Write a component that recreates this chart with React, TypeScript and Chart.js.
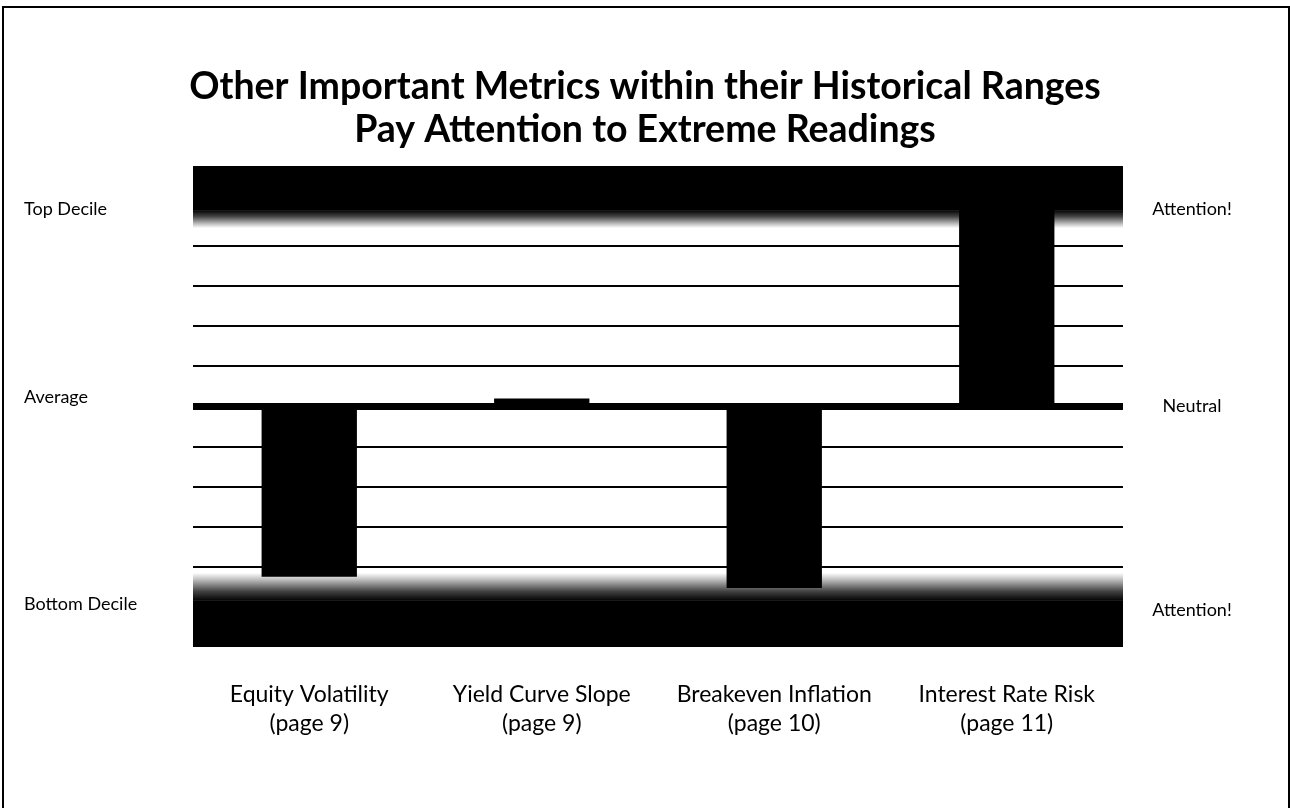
import React, { useEffect, useRef } from 'react';
import { Chart, registerables } from 'chart.js';

Chart.register(...registerables);

const titleLines = [
  'Other Important Metrics within their Historical Ranges',
  'Pay Attention to Extreme Readings',
];
const categories = [
  ['Equity Volatility', '(page 9)'],
  ['Yield Curve Slope', '(page 9)'],
  ['Breakeven Inflation', '(page 10)'],
  ['Interest Rate Risk', '(page 11)'],
];
const readings = [-4.25, 0.2, -4.53, 6];
const leftLabels = ['Top Decile', 'Average', 'Bottom Decile'];
const leftLabelValues = [4.93, 0.24, -4.93];
const rightLabels = ['Attention!', 'Neutral', 'Attention!'];
const rightLabelValues = [4.93, 0, -5.08];
// [fade end (white), solid start, outer edge]
const topBand = [4.45, 4.9, 6];
const bottomBand = [-4.15, -4.85, -6];

const FONT = 'Lato, "Open Sans", sans-serif';

const decorPlugin = {
  id: 'decor',
  beforeDatasetsDraw(chart: any) {
    const { ctx, chartArea, scales } = chart;
    const { left, right } = chartArea;
    const y = scales.y;
    ctx.save();
    const drawBand = (band: number[]) => {
      const yFade = y.getPixelForValue(band[0]);
      const ySolid = y.getPixelForValue(band[1]);
      const yEdge = y.getPixelForValue(band[2]);
      ctx.fillStyle = '#000';
      ctx.fillRect(left, Math.min(ySolid, yEdge), right - left, Math.abs(yEdge - ySolid));
      const g = ctx.createLinearGradient(0, ySolid, 0, yFade);
      g.addColorStop(0, '#000');
      g.addColorStop(0.35, '#444');
      g.addColorStop(0.75, '#bbb');
      g.addColorStop(1, '#fff');
      ctx.fillStyle = g;
      ctx.fillRect(left, Math.min(ySolid, yFade), right - left, Math.abs(yFade - ySolid));
    };
    drawBand(topBand);
    drawBand(bottomBand);
    ctx.restore();
  },
  afterDraw(chart: any) {
    const { ctx, scales, chartArea } = chart;
    const y = scales.y;
    ctx.save();
    ctx.fillStyle = '#000';
    ctx.font = `18px ${FONT}`;
    ctx.textBaseline = 'middle';
    ctx.textAlign = 'left';
    leftLabels.forEach((t, i) => ctx.fillText(t, 24, y.getPixelForValue(leftLabelValues[i])));
    ctx.textAlign = 'center';
    const rx = chartArea.right + 69;
    rightLabels.forEach((t, i) => ctx.fillText(t, rx, y.getPixelForValue(rightLabelValues[i])));
    // frame
    ctx.strokeStyle = '#000';
    ctx.lineWidth = 2;
    ctx.beginPath();
    ctx.moveTo(3, chart.height);
    ctx.lineTo(3, 7);
    ctx.lineTo(chart.width - 1, 7);
    ctx.lineTo(chart.width - 1, chart.height);
    ctx.stroke();
    ctx.restore();
  },
};

export default function App() {
  const ref = useRef<HTMLCanvasElement | null>(null);
  useEffect(() => {
    if (!ref.current) return;
    const chart = new Chart(ref.current, {
      type: 'bar',
      data: {
        labels: categories,
        datasets: [
          {
            data: readings,
            backgroundColor: '#000',
            borderWidth: 0,
            barPercentage: 0.82,
            categoryPercentage: 0.5,
          },
        ],
      },
      options: {
        animation: false,
        responsive: true,
        maintainAspectRatio: false,
        layout: { padding: 0 },
        plugins: {
          legend: { display: false },
          tooltip: { enabled: false },
          title: {
            display: true,
            text: titleLines,
            color: '#000',
            font: { family: FONT, size: 37.5, weight: 'bold', lineHeight: 43 / 37.5 },
            padding: { top: 65, bottom: 15 },
          },
        },
        scales: {
          x: {
            grid: { display: false, drawTicks: false },
            border: { display: false },
            ticks: {
              color: '#000',
              font: { family: FONT, size: 23, lineHeight: 29 / 23 },
              padding: 33,
              maxRotation: 0,
              autoSkip: false,
            },
            afterFit: (s: any) => {
              s.height = 161;
            },
          },
          y: {
            min: -6,
            max: 6,
            ticks: { display: false, stepSize: 1 },
            border: { display: false },
            grid: {
              drawTicks: false,
              color: (c: any) => (Math.abs(c.tick.value) <= 4 ? '#000' : 'rgba(0,0,0,0)'),
              lineWidth: (c: any) => (c.tick.value === 0 ? 7 : 2),
            },
            afterFit: (s: any) => {
              s.width = 193;
            },
          },
          yRight: {
            position: 'right',
            min: -6,
            max: 6,
            ticks: { display: false },
            border: { display: false },
            grid: { display: false, drawTicks: false },
            afterFit: (s: any) => {
              s.width = 167;
            },
          },
        },
      },
      plugins: [decorPlugin],
    });
    return () => chart.destroy();
  }, []);
  return (
    <div style={{ position: 'absolute', left: 0, top: 0, width: 1290, height: 808, background: '#fff' }}>
      <canvas ref={ref} />
    </div>
  );
}
